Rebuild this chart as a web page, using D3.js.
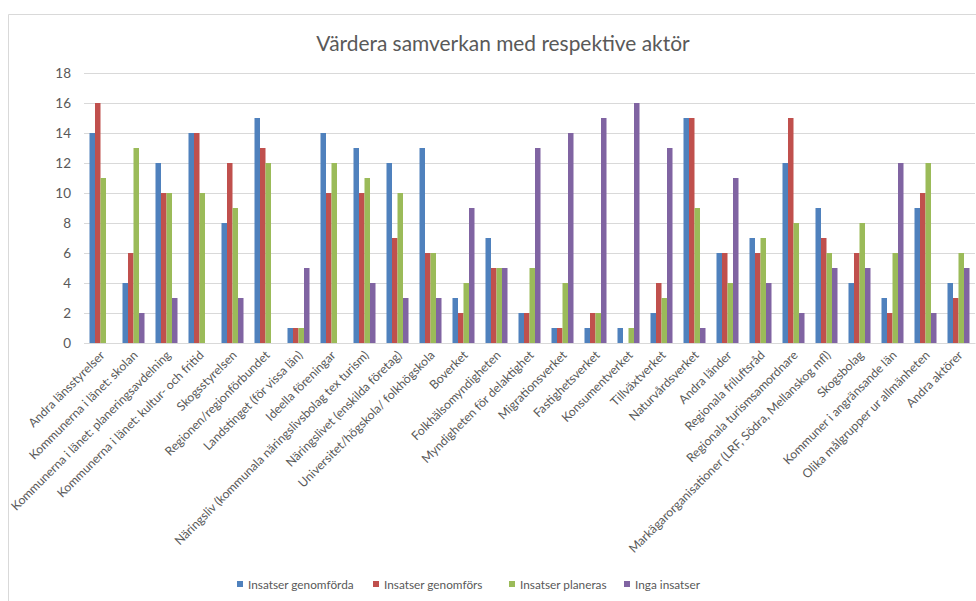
<!DOCTYPE html>
<html><head><meta charset="utf-8">
<script src="https://cdn.jsdelivr.net/npm/d3@7"></script>
<style>body{margin:0;background:#fff;} svg{display:block;font-family:Lato,"Open Sans",sans-serif;}</style>
</head><body>
<svg id="c" width="976" height="601"></svg>
<script>
const categories = ["Andra länsstyrelser","Kommunerna i länet: skolan","Kommunerna i länet: planeringsavdelning","Kommunerna i länet: kultur- och fritid","Skogsstyrelsen","Regionen/regionförbundet","Landstinget (för vissa län)","Ideella föreningar","Näringsliv (kommunala näringslivsbolag tex turism)","Näringslivet (enskilda företag)","Universitet/högskola/ folkhögskola","Boverket","Folkhälsomyndigheten","Myndigheten för delaktighet","Migrationsverket","Fastighetsverket","Konsumentverket","Tillväxtverket","Naturvårdsverket","Andra länder","Regionala friluftsråd","Regionala turismsamordnare","Markägarorganisationer (LRF, Södra, Mellanskog mfl)","Skogsbolag","Kommuner i angränsande län","Olika målgrupper ur allmänheten","Andra aktörer"];
const seriesNames = ["Insatser genomförda","Insatser genomförs","Insatser planeras","Inga insatser"];
const genomforda = [14,4,12,14,8,15,1,14,13,12,13,3,7,2,1,1,1,2,15,6,7,12,9,4,3,9,4];
const genomfors  = [16,6,10,14,12,13,1,10,10,7,6,2,5,2,1,2,0,4,15,6,6,15,7,6,2,10,3];
const planeras   = [11,13,10,10,9,12,1,12,11,10,6,4,5,5,4,2,1,3,9,4,7,8,6,8,6,12,6];
const inga       = [0,2,3,0,3,0,5,0,4,3,3,9,5,13,14,15,16,13,1,11,4,2,5,5,12,2,5];
const yTicks = [0,2,4,6,8,10,12,14,16,18];
const colors = ["#4F81BD","#C0504D","#9BBB59","#8064A2"];
const series = [genomforda, genomfors, planeras, inga];

const svg = d3.select("#c");
svg.append("path").attr("d","M8.5,601 V14.5 H976").attr("fill","none").attr("stroke","#d9d9d9").attr("stroke-width",1);

const x0 = d3.scaleBand().domain(categories).range([84,975]).paddingInner(0.333).paddingOuter(0.1665);
const x1 = d3.scaleBand().domain(d3.range(4)).range([0,x0.bandwidth()]);
const y = d3.scaleLinear().domain([0,18]).range([343,73]);

svg.append("g").selectAll("line").data(yTicks).join("line")
  .attr("x1",84).attr("x2",975).attr("y1",d=>Math.round(y(d))+0.5).attr("y2",d=>Math.round(y(d))+0.5)
  .attr("stroke","#d9d9d9").attr("stroke-width",1);

const yAxis = d3.axisLeft(y).tickValues(yTicks).tickSize(0).tickPadding(0);
const ga = svg.append("g").attr("transform","translate(71,0)").call(yAxis);
ga.select(".domain").remove();
ga.selectAll("text").attr("fill","#595959").attr("font-size","13.5px").attr("font-family","Lato,'Open Sans',sans-serif");

const groups = svg.append("g").selectAll("g").data(categories).join("g")
  .attr("transform",d=>`translate(${x0(d)},0)`);
groups.selectAll("rect").data((d,i)=>series.map((s,k)=>({k,v:s[i]}))).join("rect")
  .attr("x",d=>x1(d.k)).attr("width",x1.bandwidth())
  .attr("y",d=>y(d.v)).attr("height",d=>y(0)-y(d.v))
  .attr("fill",d=>colors[d.k]);

const xAxis = d3.axisBottom(x0).tickSize(0).tickPadding(0);
const gx = svg.append("g").attr("transform","translate(0,343)").call(xAxis);
gx.select(".domain").attr("stroke","#d9d9d9");
gx.selectAll("text").attr("fill","#595959").attr("font-size","12.2px")
  .attr("font-family","Lato,'Open Sans',sans-serif")
  .attr("text-anchor","end").attr("dy",null).attr("y",0)
  .attr("transform","translate(5,13) rotate(-45)");

svg.append("text").attr("x",503).attr("y",51).attr("text-anchor","middle")
  .attr("fill","#595959").attr("font-size","20.9px").text("Värdera samverkan med respektive aktör");

const legX = [237,373,509,624];
const lg = svg.append("g").selectAll("g").data(seriesNames).join("g")
  .attr("transform",(d,i)=>`translate(${legX[i]},584)`);
lg.append("rect").attr("x",0).attr("y",-3).attr("width",6).attr("height",6).attr("fill",(d,i)=>colors[i]);
lg.append("text").attr("x",11).attr("y",4.5).attr("fill","#595959").attr("font-size","11.8px").text(d=>d);
</script>
</body></html>
